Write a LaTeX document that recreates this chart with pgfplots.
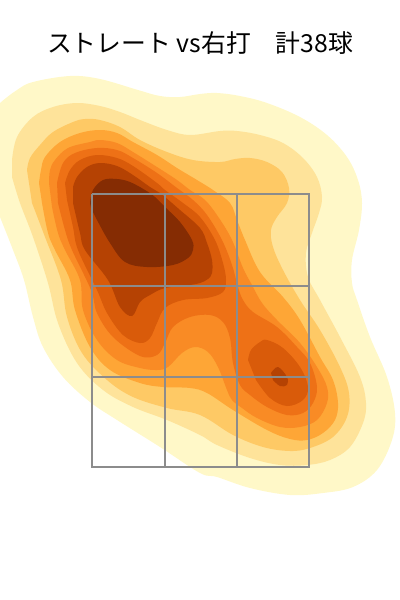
\documentclass[border=0pt]{standalone}
\usepackage{pgfplots}
\pgfplotsset{compat=1.18}
\usepackage{fontspec}
\setmainfont{Noto Sans CJK JP}
\definecolor{c1}{HTML}{FFF8C8}
\definecolor{c2}{HTML}{FEE39A}
\definecolor{c3}{HTML}{FEC965}
\definecolor{c4}{HTML}{FEA636}
\definecolor{c5}{HTML}{F98B25}
\definecolor{c6}{HTML}{EE7116}
\definecolor{c7}{HTML}{D95B0A}
\definecolor{c8}{HTML}{B54203}
\definecolor{c9}{HTML}{852C03}
\begin{document}
\begin{tikzpicture}
\useasboundingbox (0,0) rectangle (300pt,450pt);
\begin{axis}[at={(0,0)},anchor=south west,scale only axis,width=300pt,height=450pt,xmin=0,xmax=400,ymin=0,ymax=600,y dir=reverse,hide axis,clip=true]
\addplot[fill=c1,draw=none,smooth,tension=0.6] coordinates {(-20,122)(0,103)(17,90)(33,82)(70,76)(100,79)(138,90)(160,96)(180,97)(200,94)(217,93)(240,96)(267,103)(300,117)(327,135)(347,157)(358,180)(362,203)(359,230)(352,260)(352,283)(357,300)(370,337)(387,377)(395,413)(392,440)(377,470)(353,487)(323,493)(290,495)(250,488)(217,477)(200,473)(160,447)(117,420)(90,402)(63,377)(43,347)(33,317)(24,280)(13,250)(0,217)(-15,180)} -- cycle;
\addplot[fill=c2,draw=none,smooth,tension=0.6] coordinates {(12,160)(17,137)(33,117)(53,107)(77,103)(100,106)(120,112)(140,120)(167,130)(190,135)(220,131)(237,131)(260,135)(283,143)(303,158)(317,177)(322,197)(319,213)(312,233)(306,253)(308,277)(320,300)(340,337)(360,377)(366,403)(363,423)(350,447)(330,460)(307,465)(280,465)(250,458)(217,445)(200,435)(167,420)(133,407)(103,390)(77,363)(58,323)(48,283)(33,237)(20,203)(12,177)} -- cycle;
\addplot[fill=c3,draw=none,smooth,tension=0.6] coordinates {(27,170)(30,158)(40,145)(53,132)(73,122)(85,119)(100,120)(120,127)(140,140)(167,152)(193,160)(220,162)(235,159)(250,158)(267,162)(282,172)(289,188)(287,203)(277,217)(271,230)(273,247)(283,270)(300,300)(320,330)(340,367)(349,393)(347,417)(333,437)(310,448)(290,451)(263,447)(233,435)(200,415)(167,408)(133,397)(107,380)(82,353)(67,317)(61,280)(45,237)(32,203)} -- cycle;
\addplot[fill=c4,draw=none,smooth,tension=0.6] coordinates {(39,183)(41,170)(45,157)(60,142)(80,133)(100,130)(117,133)(133,142)(157,155)(177,168)(197,180)(213,190)(230,203)(237,220)(245,240)(260,272)(283,297)(300,320)(320,357)(333,380)(338,403)(335,420)(323,433)(307,440)(290,439)(267,430)(233,410)(207,393)(190,388)(163,387)(140,383)(110,370)(90,347)(75,310)(70,280)(55,250)(48,233)(42,203)} -- cycle;
\addplot[fill=c5,draw=none,smooth,tension=0.6] coordinates {(49,183)(50,170)(55,160)(68,148)(90,142)(100,140)(117,143)(133,152)(157,167)(177,180)(190,190)(205,200)(219,218)(232,240)(243,268)(252,285)(262,303)(277,320)(300,343)(317,367)(327,387)(327,403)(317,420)(300,427)(280,427)(257,418)(242,408)(232,400)(227,390)(218,367)(208,352)(195,347)(182,353)(168,367)(157,370)(140,368)(117,360)(97,340)(83,310)(80,280)(65,250)(58,233)(52,207)} -- cycle;
\addplot[fill=c6,draw=none,smooth,tension=0.6] coordinates {(57,183)(63,163)(75,153)(97,148)(117,150)(133,158)(157,173)(177,188)(193,200)(207,215)(222,240)(232,265)(238,287)(243,300)(253,312)(277,327)(297,347)(310,363)(317,387)(313,403)(303,413)(287,415)(267,407)(250,395)(240,385)(233,363)(230,338)(223,322)(210,315)(190,317)(173,327)(165,343)(157,355)(140,356)(113,337)(97,313)(91,290)(72,250)(65,230)(58,203)} -- cycle;
\addplot[fill=c7,draw=none,smooth,tension=0.6] coordinates {(65,183)(70,170)(80,160)(97,155)(117,158)(133,166)(157,183)(165,190)(183,203)(200,217)(215,240)(223,263)(226,280)(223,292)(207,298)(183,300)(165,308)(157,323)(150,338)(140,343)(123,335)(107,313)(97,290)(78,250)(73,227)(67,200)} -- cycle;
\addplot[fill=c7,draw=none,smooth,tension=0.6] coordinates {(248,360)(251,350)(260,342)(267,340)(283,348)(300,367)(308,387)(303,400)(287,406)(270,398)(256,380)} -- cycle;
\addplot[fill=c8,draw=none,smooth,tension=0.6] coordinates {(73,187)(77,177)(87,167)(100,163)(117,166)(133,175)(150,187)(160,193)(180,210)(200,228)(207,243)(212,260)(212,273)(208,279)(200,283)(190,285)(165,288)(150,295)(140,302)(132,316)(120,307)(108,280)(85,250)(80,233)(73,203)} -- cycle;
\addplot[fill=c8,draw=none,smooth,tension=0.6] coordinates {(271,373)(278,367)(287,377)(287,385)(280,386)(273,380)} -- cycle;
\addplot[fill=c9,draw=none,smooth,tension=0.6] coordinates {(90,203)(93,190)(103,180)(117,179)(130,182)(145,190)(155,197)(165,207)(180,222)(192,240)(193,250)(188,258)(173,265)(147,267)(125,262)(110,243)(97,220)(91,208)} -- cycle;
\addplot[draw=gray!90,line width=1.5pt] coordinates {(91.5,193.5)(309,193.5)(309,467)(91.5,467)(91.5,193.5)};
\addplot[draw=gray!90,line width=1.5pt] coordinates {(164.5,193.5)(164.5,467)};
\addplot[draw=gray!90,line width=1.5pt] coordinates {(237,193.5)(237,467)};
\addplot[draw=gray!90,line width=1.5pt] coordinates {(91.5,285.5)(309,285.5)};
\addplot[draw=gray!90,line width=1.5pt] coordinates {(91.5,377)(309,377)};
\node[anchor=center,inner sep=0pt] at (axis cs:200,43) {\fontsize{18.6pt}{18.6pt}\selectfont ストレート vs右打　計38球};
\end{axis}
\end{tikzpicture}
\end{document}
